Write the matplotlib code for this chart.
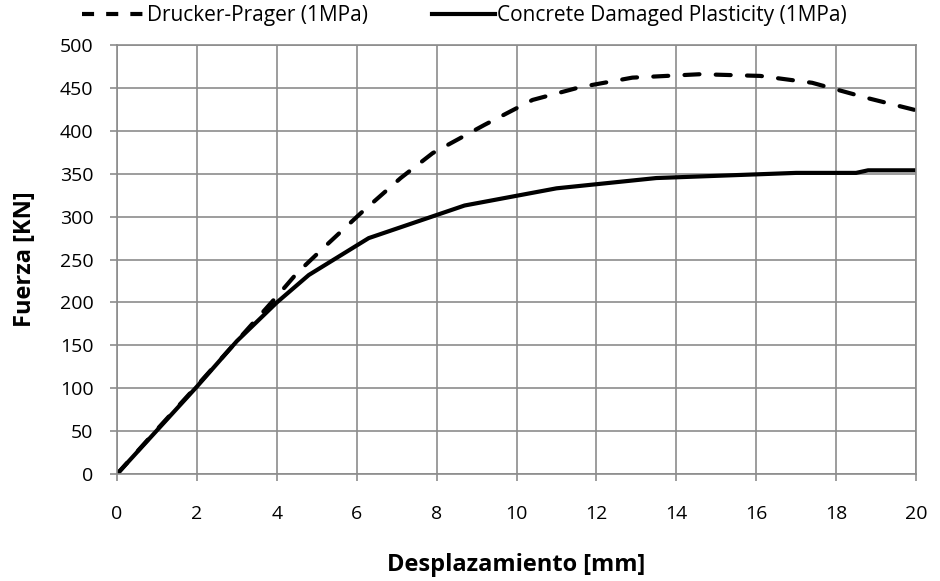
import matplotlib
matplotlib.use("Agg")
import matplotlib.pyplot as plt
from matplotlib.lines import Line2D

plt.rcParams['font.family'] = ['Open Sans', 'DejaVu Sans']

dp_x = [0, 1, 2, 3, 4, 4.5, 5.2, 6.1, 7.1, 7.9, 9.2, 10.4, 11.6, 12.9, 14.6, 16.1, 17.4, 18.8, 20]
dp_y = [0, 52, 103, 155, 207, 234, 265, 304, 345, 374, 407, 436, 451, 462, 466, 464, 456, 438, 424]

cdp_x = [0, 1, 2, 3, 4, 4.8, 6.3, 8.7, 11.0, 13.5, 17.0, 18.5, 18.8, 20]
cdp_y = [0, 51, 102, 155, 200, 232, 275, 313, 333, 345, 351, 351, 354, 354]

labels = ['Drucker-Prager (1MPa)', 'Concrete Damaged Plasticity (1MPa)']
x_ticks = list(range(0, 21, 2))
y_ticks = list(range(0, 501, 50))

fig = plt.figure(figsize=(9.4, 5.81), dpi=100)
ax = fig.add_axes([0.1245, 0.184, 0.85, 0.7385])

ax.plot(dp_x, dp_y, color='black', lw=3.0, dashes=(3.6, 3.9), dash_capstyle='round',
        solid_joinstyle='round')
ax.plot(cdp_x, cdp_y, color='black', lw=3.0, solid_joinstyle='round')

ax.set_xlim(0, 20)
ax.set_ylim(0, 500)
ax.set_xticks(x_ticks)
ax.set_yticks(y_ticks)
ax.grid(True, color='#8c8c8c', lw=1.2)
ax.set_axisbelow(True)
for s in ax.spines.values():
    s.set_color('#8c8c8c')
    s.set_linewidth(1.2)
ax.tick_params(axis='both', colors='#8c8c8c', labelcolor='black', labelsize=14,
               length=5, width=1.2, direction='out')
ax.tick_params(axis='x', pad=17)
ax.tick_params(axis='y', pad=12)

ax.set_xlabel('Desplazamiento [mm]', fontsize=17, fontweight='bold')
ax.set_ylabel('Fuerza [KN]', fontsize=17, fontweight='bold')
ax.xaxis.set_label_coords(0.5, (474 - 566) / 432, transform=ax.transAxes)
ax.yaxis.set_label_coords((24 - 116) / 800, 0.5, transform=ax.transAxes)
ax.xaxis.label.set_va('center')
ax.yaxis.label.set_va('center')

h1 = Line2D([], [], color='black', lw=3.0, dashes=(2.9, 2.9))
h2 = Line2D([], [], color='black', lw=3.0)
leg1 = fig.legend(handles=[h1], labels=[labels[0]], loc='center left',
                  bbox_to_anchor=(82 / 940, 1 - 16 / 581), frameon=False, fontsize=15,
                  handlelength=2.93, handletextpad=0.2, borderpad=0, borderaxespad=0)
leg2 = fig.legend(handles=[h2], labels=[labels[1]], loc='center left',
                  bbox_to_anchor=(432 / 940, 1 - 16 / 581), frameon=False, fontsize=15,
                  handlelength=3.03, handletextpad=0.1, borderpad=0, borderaxespad=0)

fig.savefig('out.png', dpi=100)
